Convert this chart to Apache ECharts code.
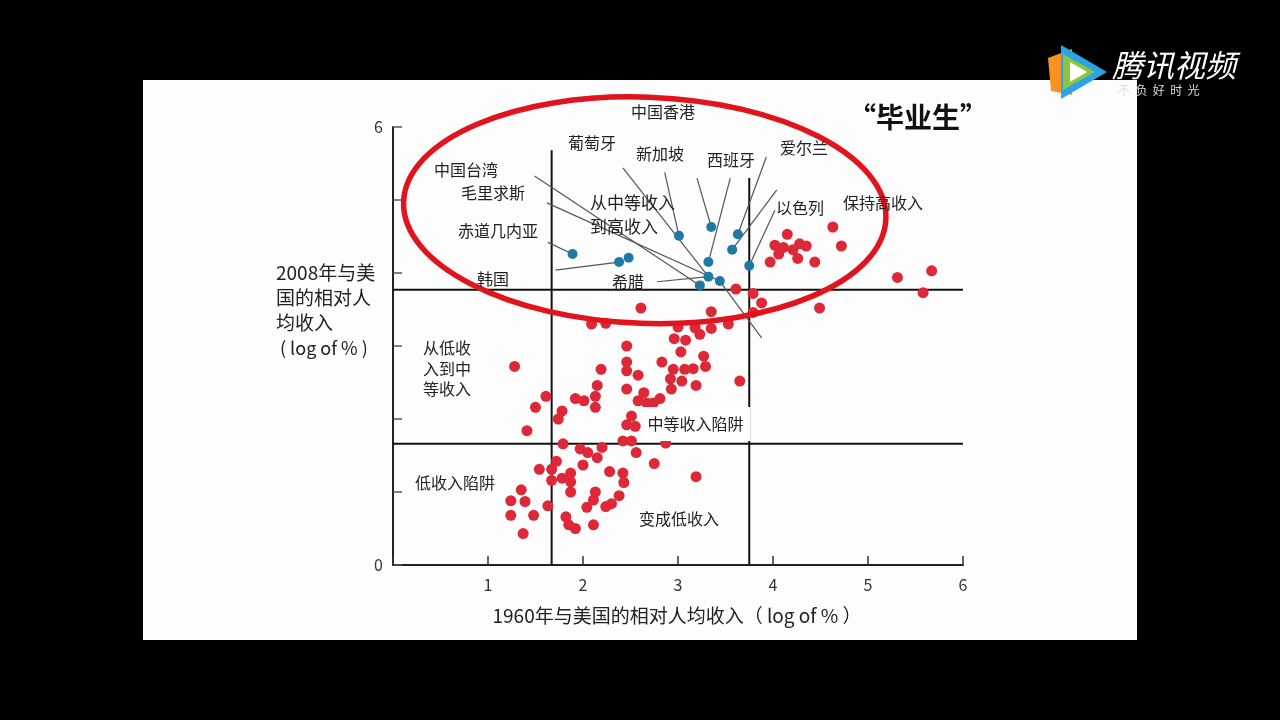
<!DOCTYPE html>
<html><head><meta charset="utf-8">
<script src="https://cdn.jsdelivr.net/npm/echarts@6/dist/echarts.min.js"></script>
<style>html,body{margin:0;padding:0;background:#000;overflow:hidden}#c{width:1280px;height:720px}</style>
</head><body><div id="c"></div>
<script>
// ---- data (log of % of US per-capita income) ----
const xTickValues = [0, 1, 2, 3, 4, 5, 6];
const yTickLabelsShown = [0, 6];
// red: other economies
const redX = [4.63,4.15,4.72,4.02,4.11,4.28,4.35,4.06,4.21,4.26,3.97,4.44,5.31,5.67,5.58,3.61,3.79,4.49,3.88,3.79,
  3.35,3.53,3.00,3.18,3.35,3.23,2.96,3.08,3.03,3.27,2.83,2.95,3.07,3.16,3.29,2.92,3.04,3.19,2.93,3.65,
  2.81,2.87,3.19,2.61,2.46,2.46,2.46,2.58,2.46,2.64,2.58,2.67,2.74,2.51,2.09,2.24,1.28,2.19,2.15,1.61,
  1.92,2.01,2.13,2.13,1.50,1.78,1.74,1.41,2.46,2.55,1.79,1.97,2.05,2.20,2.15,2.42,2.51,1.72,2.00,1.54,
  1.67,1.87,2.28,2.42,1.67,1.78,1.87,1.87,1.35,1.39,1.24,2.13,2.11,2.38,2.30,2.24,2.04,1.63,1.24,1.48,
  1.82,1.85,1.92,2.11,1.37,2.56,2.75,2.43];
const redY = [4.63,4.53,4.37,4.38,4.35,4.40,4.37,4.26,4.32,4.20,4.15,4.15,3.94,4.03,3.73,3.78,3.72,3.52,3.59,3.46,
  3.47,3.30,3.26,3.25,3.24,3.16,3.10,3.08,2.92,2.86,2.78,2.68,2.68,2.69,2.72,2.55,2.52,2.46,2.41,2.52,
  2.28,1.67,1.21,3.52,3.00,2.78,2.66,2.60,2.41,2.36,2.25,2.22,2.22,2.04,3.30,3.31,2.72,2.68,2.46,2.31,
  2.28,2.25,2.31,2.16,2.16,2.11,2.00,1.84,1.92,1.90,1.66,1.59,1.54,1.61,1.47,1.70,1.70,1.42,1.37,1.31,
  1.31,1.26,1.28,1.26,1.16,1.19,1.14,1.00,1.03,0.87,0.88,1.00,0.89,0.95,0.84,0.80,0.79,0.81,0.68,0.68,
  0.66,0.55,0.50,0.55,0.43,1.54,1.39,1.13];
// blue: "graduates" (middle income -> high income)
const blueX = [1.89,2.38,2.48,3.01,3.35,3.63,3.57,3.32,3.32,3.75,3.23,3.44];
const blueY = [4.26,4.15,4.21,4.51,4.63,4.53,4.32,4.15,3.95,4.10,3.83,3.89];
// quadrant boundary lines
const hLineLevels = [3.77, 1.66];
const vLines = [{x: 1.67, top: 5.68}, {x: 3.75, top: 5.30}];
// leader lines: label end -> country point
const leaderFrom = [[3.20,5.30],[3.55,5.30],[3.93,5.59],[4.04,5.14],[4.02,4.86],[1.49,5.33],[1.62,4.96],[1.63,4.42],[1.71,4.04],[2.78,3.88],[2.42,5.44],[2.86,5.38],[3.44,3.89]];
const leaderTo   = [[3.35,4.63],[3.32,4.15],[3.63,4.53],[3.57,4.32],[3.75,4.10],[3.23,3.83],[3.44,3.89],[1.89,4.26],[2.38,4.15],[3.32,3.95],[3.32,3.95],[3.01,4.51],[3.88,3.11]];
// highlight ellipse (data units)
const ellipseCenter = [2.65, 4.86];
const ellipseRadii = [2.54, 1.55];

const FONT = '"Noto Sans CJK SC","Noto Sans",sans-serif';
const chart = echarts.init(document.getElementById('c'));

function pts(xs, ys) { return xs.map((x, i) => [x, ys[i]]); }

const lineSeries = [];
hLineLevels.forEach(v => lineSeries.push({type:'line', data:[[0,v],[6,v]], symbol:'none', silent:true, z:3,
  lineStyle:{color:'#111', width:2}}));
vLines.forEach(v => lineSeries.push({type:'line', data:[[v.x,0],[v.x,v.top]], symbol:'none', silent:true, z:3,
  lineStyle:{color:'#111', width:2}}));
leaderFrom.forEach((f, i) => lineSeries.push({type:'line', data:[f, leaderTo[i]], symbol:'none', silent:true, z:3,
  lineStyle:{color:'#555', width:1.2}}));

function txt(text, x, y, size, opts) {
  opts = opts || {};
  return {type:'text', x:x, y:y, z:50, style:{text:text, font:(opts.weight||'normal')+' '+size+'px '+FONT,
    fill: opts.fill||'#222', align: opts.align||'center', verticalAlign:'middle',
    backgroundColor: opts.bg, padding: opts.pad}};
}

const graphics = [
  {type:'rect', z:-100, shape:{x:143, y:80, width:994, height:560}, style:{fill:'#fdfdfd'}},
  // watermark logo
  {type:'polygon', z:60, shape:{points:[[1048,58],[1072,49],[1072,95],[1051,91]]}, style:{fill:'#f7931e'}},
  {type:'polygon', z:61, shape:{points:[[1061,45],[1107,72],[1061,99]]}, style:{fill:'#2aa4e6'}},
  {type:'polygon', z:62, shape:{points:[[1063,54],[1095,72],[1063,90]]}, style:{fill:'#8cc63e'}},
  {type:'polygon', z:63, shape:{points:[[1070,62],[1087,72],[1070,82]]}, style:{fill:'#fff'}},
  txt('腾讯视频', 1112, 65, 31, {align:'left', fill:'#fff', weight:'italic'}),
  txt('不  负  好  时  光', 1118, 90, 12, {align:'left', fill:'#ddd'}),
  // annotations
  txt('中国香港', 663, 112, 16),
  txt('葡萄牙', 592, 143, 16),
  txt('新加坡', 660, 154, 16),
  txt('西班牙', 731, 160, 16),
  txt('爱尔兰', 804, 148, 16),
  txt('中国台湾', 466, 170, 16),
  txt('毛里求斯', 493, 193, 16),
  txt('从中等收入', 590, 203, 17, {align:'left'}),
  txt('到高收入', 590, 227, 17, {align:'left'}),
  txt('以色列', 800, 208, 16),
  txt('保持高收入', 883, 203, 16),
  txt('赤道几内亚', 498, 231, 16),
  txt('韩国', 493, 279, 16),
  txt('希腊', 628, 282, 16),
  txt('从低收', 423, 348, 16, {align:'left'}),
  txt('入到中', 423, 369, 16, {align:'left'}),
  txt('等收入', 423, 389, 16, {align:'left'}),
  txt('中等收入陷阱', 697, 424, 16, {bg:'#fff', pad:[9,7,9,4]}),
  txt('低收入陷阱', 455, 483, 16),
  txt('变成低收入', 679, 519, 16),
  txt('“毕业生”', 918, 117, 28, {weight:'bold', fill:'#111'}),
  txt('2008年与美', 276, 273, 19, {align:'left'}),
  txt('国的相对人', 276, 298, 19, {align:'left'}),
  txt('均收入', 276, 323, 19, {align:'left'}),
  txt('( log of % )', 280, 348, 18, {align:'left'}),
  txt('1960年与美国的相对人均收入（ log of % ）', 677, 616, 19)
];

chart.setOption({
  backgroundColor: '#000',
  animation: false,
  grid: {left:393, right:317, top:127, bottom:155},
  xAxis: {type:'value', min:0, max:6, interval:1, splitLine:{show:false},
    axisLine:{lineStyle:{color:'#222', width:2}},
    axisTick:{inside:true, length:9, lineStyle:{color:'#333', width:1.5}},
    axisLabel:{margin:12, fontSize:16, color:'#333', fontFamily:FONT, formatter: v => v === 0 ? '' : String(v)}},
  yAxis: {type:'value', min:0, max:6, interval:1, splitLine:{show:false},
    axisLine:{show:true, lineStyle:{color:'#222', width:2}},
    axisTick:{show:true, inside:true, length:9, lineStyle:{color:'#555', width:1.5}},
    axisLabel:{margin:10, fontSize:16, color:'#333', fontFamily:FONT,
      formatter: v => yTickLabelsShown.indexOf(v) >= 0 ? String(v) : ''}},
  series: lineSeries.concat([
    {type:'scatter', data: pts(redX, redY), symbolSize: 11, z:5, itemStyle:{color:'#dc2837', opacity:1}},
    {type:'scatter', data: pts(blueX, blueY), symbolSize: 10, z:6, itemStyle:{color:'#1c7aa5', opacity:1}}
  ]),
  graphic: {elements: graphics}
});

const c0 = chart.convertToPixel({gridIndex:0}, ellipseCenter);
const c1 = chart.convertToPixel({gridIndex:0}, [ellipseCenter[0] + ellipseRadii[0], ellipseCenter[1] + ellipseRadii[1]]);
graphics.push({type:'ellipse', z:40, rotation:-0.035, x:c0[0], y:c0[1],
  shape:{cx:0, cy:0, rx: Math.abs(c1[0]-c0[0]), ry: Math.abs(c0[1]-c1[1])},
  style:{fill:'none', stroke:'#e1131c', lineWidth:5.5}});
chart.setOption({graphic: {elements: graphics}}, {replaceMerge:['graphic']});
</script></body></html>
